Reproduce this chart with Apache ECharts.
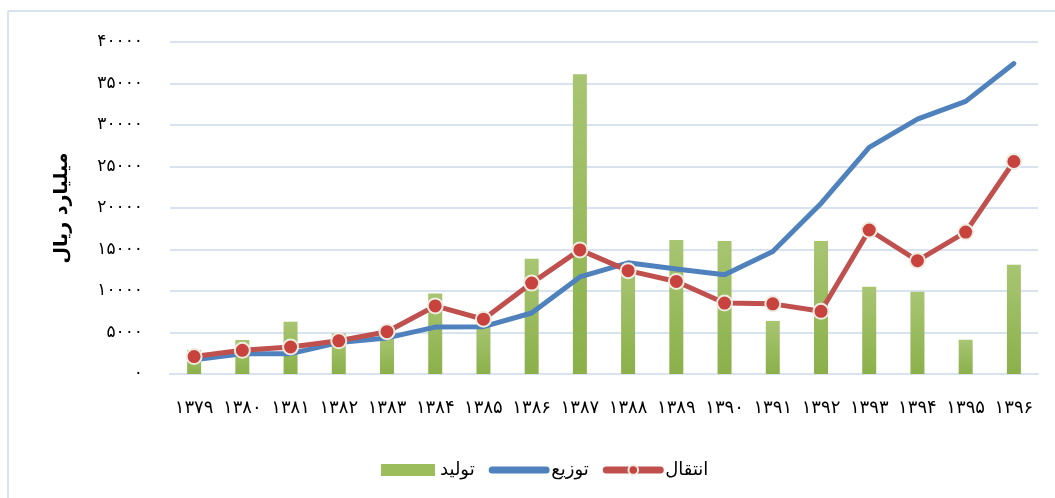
<!DOCTYPE html>
<html>
<head>
<meta charset="utf-8">
<script src="https://cdn.jsdelivr.net/npm/echarts@6/dist/echarts.min.js"></script>
<style>
  html, body { margin: 0; padding: 0; background: #fff; }
  #chart { width: 1055px; height: 498px; }
</style>
</head>
<body>
<div id="chart"></div>
<script>
// years (solar hijri)
const years = ['۱۳۷۹', '۱۳۸۰', '۱۳۸۱', '۱۳۸۲', '۱۳۸۳', '۱۳۸۴', '۱۳۸۵', '۱۳۸۶', '۱۳۸۷',
  '۱۳۸۸', '۱۳۸۹', '۱۳۹۰', '۱۳۹۱', '۱۳۹۲', '۱۳۹۳', '۱۳۹۴', '۱۳۹۵', '۱۳۹۶']

// billion rials
const production = [2900, 4100, 6300, 4900, 4500, 9700, 5900, 13900, 36100,
  13400, 16150, 16030, 6400, 16030, 10500, 9900, 4130, 13150]
const distribution = [1700, 2450, 2450, 3800, 4350, 5650, 5700, 7350, 11700,
  13400, 12650, 11950, 14750, 20550, 27300, 30700, 32850, 37400]
const transmission = [2100, 2850, 3250, 4000, 5100, 8200, 6600, 10950, 14950,
  12450, 11150, 8550, 8450, 7550, 17350, 13650, 17100, 25600]

const seriesNames = ['تولید', 'توزیع', 'انتقال']
const yAxisName = 'میلیارد ریال'

const faDigits = '۰۱۲۳۴۵۶۷۸۹'
function toFa(n) {
  return String(n).replace(/\d/g, d => faDigits[d])
}

const font = 'DejaVu Sans'
const chart = echarts.init(document.getElementById('chart'))

chart.setOption({
  animation: false,
  textStyle: { fontFamily: font },
  graphic: [
    { type: 'line', shape: { x1: 8, y1: 11, x2: 1055, y2: 11 }, style: { stroke: '#d9e3f0', lineWidth: 2 } },
    { type: 'line', shape: { x1: 8, y1: 11, x2: 8, y2: 498 }, style: { stroke: '#d9e3f0', lineWidth: 2 } },
  ],
  grid: { left: 170, right: 17, top: 42, bottom: 124 },
  legend: {
    left: 376,
    top: 456,
    itemWidth: 54,
    itemHeight: 12,
    itemGap: 14,
    textStyle: { fontSize: 18, color: '#000', fontFamily: font },
    data: [
      { name: seriesNames[0], icon: 'rect', itemStyle: { color: '#9cbd5c' } },
      { name: seriesNames[1], itemStyle: { opacity: 0 }, lineStyle: { width: 7, cap: 'round' } },
      { name: seriesNames[2], lineStyle: { width: 7, cap: 'round' } },
    ],
  },
  xAxis: {
    type: 'category',
    data: years,
    axisTick: { show: false },
    axisLine: { lineStyle: { color: '#d9e3f0', width: 2 } },
    axisLabel: { color: '#000', fontSize: 18, margin: 25, interval: 0 },
  },
  yAxis: {
    type: 'value',
    min: 0,
    max: 40000,
    interval: 5000,
    name: yAxisName,
    nameLocation: 'middle',
    nameGap: 98,
    nameTextStyle: { fontSize: 19, fontWeight: 'bold', color: '#000' },
    axisLabel: { color: '#000', fontSize: 17, margin: 27, formatter: v => toFa(v) },
    splitLine: { lineStyle: { color: '#d9e3f0', width: 2 } },
  },
  series: [
    {
      name: seriesNames[0],
      type: 'bar',
      data: production,
      barWidth: 14,
      itemStyle: {
        color: new echarts.graphic.LinearGradient(0, 0, 0, 1, [
          { offset: 0, color: '#a8c572' },
          { offset: 1, color: '#8bb04a' },
        ]),
      },
    },
    {
      name: seriesNames[1],
      type: 'line',
      data: distribution,
      symbol: 'none',
      lineStyle: { color: '#4f81bd', width: 5, cap: 'round' },
      itemStyle: { color: '#4f81bd' },
    },
    {
      name: seriesNames[2],
      type: 'line',
      data: transmission,
      symbol: 'circle',
      symbolSize: 15,
      lineStyle: { color: '#c0504d', width: 5 },
      itemStyle: { color: '#c8423e', borderColor: '#eeece1', borderWidth: 2 },
    },
  ],
})
</script>
</body>
</html>
